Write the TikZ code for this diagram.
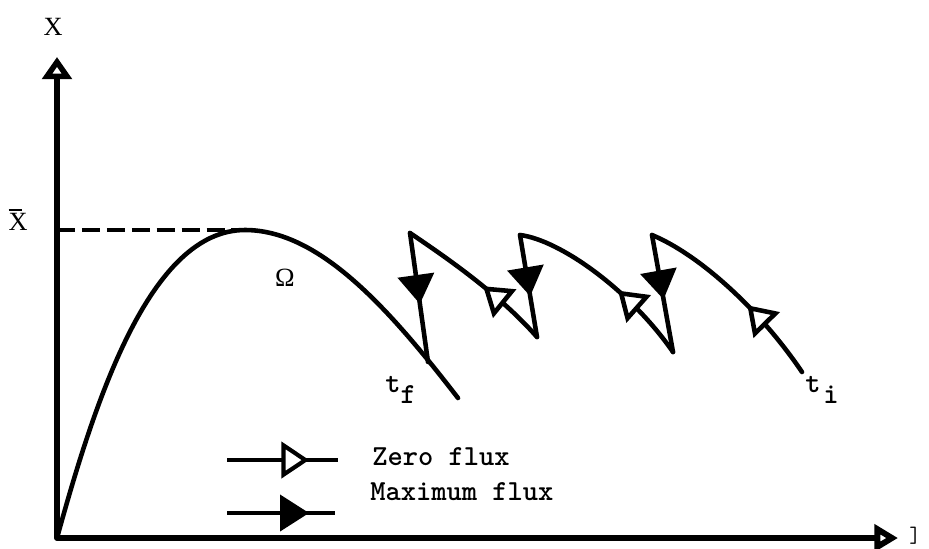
\documentclass[tikz,border=0pt]{standalone}
\usepackage{fontspec}
\setmainfont{Liberation Serif}
\usetikzlibrary{arrows.meta,decorations.markings}

\begin{document}
\begin{tikzpicture}[x=0.01in, y=-0.01in,
    axis/.style={line width=4.3pt, line join=round},
    curve/.style={line width=3.3pt, line join=round, line cap=round},
    zeroflux/.style={postaction={decorate, decoration={markings,
        mark=at position #1 with {\arrow{Triangle[open,fill=white,length=20pt,width=26pt]}}}}},
    maxflux/.style={postaction={decorate, decoration={markings,
        mark=at position #1 with {\arrow{Triangle[length=21pt,width=26pt]}}}}},
    legtext/.style={font=\ttfamily\bfseries\fontsize{21}{23}\selectfont, inner sep=0pt}]
  \useasboundingbox (0,0) rectangle (929,548);

  % axes
  \coordinate (O) at (57,538);
  \coordinate (ytop) at (57,57);
  \coordinate (xend) at (898,538);
  \draw[axis, {Triangle[open,length=16pt,width=21pt]}-{Triangle[open,length=17pt,width=19pt]}]
    (ytop) -- (O) -- (xend);
  \node[font=\fontsize{19}{21}\selectfont] (ylab) at (53,27) {X};
  \node[legtext, font=\ttfamily\fontsize{16}{18}\selectfont, anchor=south west] (xlab) at (909,545) {]};

  % upper bound
  \coordinate (peak) at (245,230);
  \draw[line width=2.3pt, dash pattern=on 13pt off 5pt] (57,230) -- (peak);
  \node[font=\fontsize{19}{21}\selectfont] (xbar) at (18,220)
    {\makebox[0pt][l]{\rule[14.5pt]{10pt}{0.8pt}}X};

  % boundary curve
  \coordinate (tf) at (458,398);
  \draw[curve] (O) .. controls (95,400) and (150,230) .. (peak)
    .. controls (320,230) and (390,310) .. (tf);
  \node[font=\fontsize{19}{21}\selectfont] (omega) at (285,278) {Ω};

  % trajectory
  \coordinate (ti) at (802,372);
  \coordinate (a3) at (652,235);
  \coordinate (b3) at (673,352);
  \coordinate (a2) at (520,235);
  \coordinate (b2) at (537,337);
  \coordinate (a1) at (410,233);
  \coordinate (b1) at (428,362);
  \draw[curve, zeroflux=0.42] (ti) .. controls (760,310) and (700,255) .. (a3);
  \draw[curve, maxflux=0.55] (a3) -- (b3);
  \draw[curve, zeroflux=0.42] (b3) .. controls (630,290) and (560,240) .. (a2);
  \draw[curve, maxflux=0.6] (a2) -- (b2);
  \draw[curve, zeroflux=0.45] (b2) .. controls (500,295) and (450,260) .. (a1);
  \draw[curve, maxflux=0.55] (a1) -- (b1);

  \node[legtext, anchor=base west] (tflab) at (385,392) {t\kern0pt\raisebox{-8pt}{f}};
  \node[legtext, anchor=base west] (tilab) at (805,392) {t\kern2pt\raisebox{-8pt}{i}};

  % legend
  \coordinate (zf0) at (227,460);
  \coordinate (zf1) at (338,460);
  \coordinate (mf0) at (227,513);
  \coordinate (mf1) at (335,513);
  \draw[line width=3pt, zeroflux=0.74] (zf0) -- (zf1);
  \draw[line width=3pt, maxflux=0.76] (mf0) -- (mf1);
  \node[legtext, anchor=base west] (zftext) at (372,465) {Zero flux};
  \node[legtext, anchor=base west] (mftext) at (370,500) {Maximum flux};
\end{tikzpicture}
\end{document}
